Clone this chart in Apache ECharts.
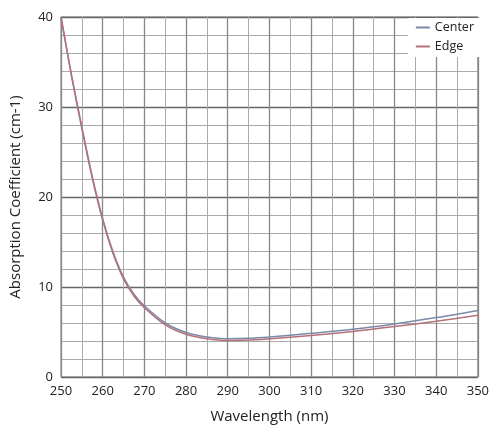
<!DOCTYPE html><html><head><meta charset="utf-8"><script src="https://cdn.jsdelivr.net/npm/echarts@6/dist/echarts.min.js"></script></head><body style="margin:0;background:#fff"><div id="c" style="width:492px;height:436px"></div><script>
const wavelengths=[250,252.5,255,257.5,260,262.5,265,267.5,270,275,280,285,290,295,300,310,320,330,340,350];
const centerVals=[40,33.6,27.8,22.3,17.6,13.9,11.1,9.2,7.9,6.0,4.95,4.45,4.25,4.3,4.45,4.85,5.3,5.9,6.6,7.4];
const edgeVals=[40,33.5,27.6,22.1,17.4,13.7,10.9,9.0,7.7,5.8,4.75,4.25,4.05,4.1,4.25,4.6,5.05,5.6,6.2,6.85];
const xTicks=[250,260,270,280,290,300,310,320,330,340,350];
const yTicks=[0,10,20,30,40];
const pair=a=>wavelengths.map((w,i)=>[w,a[i]]);
const f="'Open Sans',Arial,sans-serif";
const ch=echarts.init(document.getElementById('c'));
ch.setOption({animation:false,
grid:{left:61,right:11,top:17,bottom:59,show:true,borderColor:'#777',borderWidth:1},
legend:{right:12,top:18,orient:'vertical',itemWidth:14,itemHeight:2,itemGap:6,padding:[3,6,4,8],backgroundColor:'#fff',textStyle:{fontFamily:f,fontSize:12.5,color:'#222'},icon:'rect',data:['Center','Edge']},
xAxis:{type:'value',min:250,max:350,interval:10,name:'Wavelength (nm)',nameLocation:'middle',nameGap:32,nameTextStyle:{fontFamily:f,fontSize:15,color:'#222'},
axisLabel:{fontFamily:f,fontSize:13,color:'#222'},axisLine:{show:false},axisTick:{show:false},
splitLine:{lineStyle:{color:'#888',width:1.3}},minorTick:{show:false,splitNumber:2},minorSplitLine:{show:true,lineStyle:{color:'#aaa',width:1}}},
yAxis:{type:'value',min:0,max:40,interval:10,name:'Absorption Coefficient (cm-1)',nameLocation:'middle',nameGap:38,nameTextStyle:{fontFamily:f,fontSize:15,color:'#222'},
axisLabel:{fontFamily:f,fontSize:13,color:'#222'},axisLine:{show:false},axisTick:{show:false},
splitLine:{lineStyle:{color:'#666',width:1.3}},minorTick:{show:false,splitNumber:5},minorSplitLine:{show:true,lineStyle:{color:'#aaa',width:1}}},
series:[
{name:'Center',type:'line',smooth:0.3,showSymbol:false,data:pair(centerVals),lineStyle:{color:'#7b8aa6',width:1.5},itemStyle:{color:'#7b8aa6'}},
{name:'Edge',type:'line',smooth:0.3,showSymbol:false,data:pair(edgeVals),lineStyle:{color:'#b4717b',width:1.5},itemStyle:{color:'#b4717b'}}
]});
</script></body></html>
